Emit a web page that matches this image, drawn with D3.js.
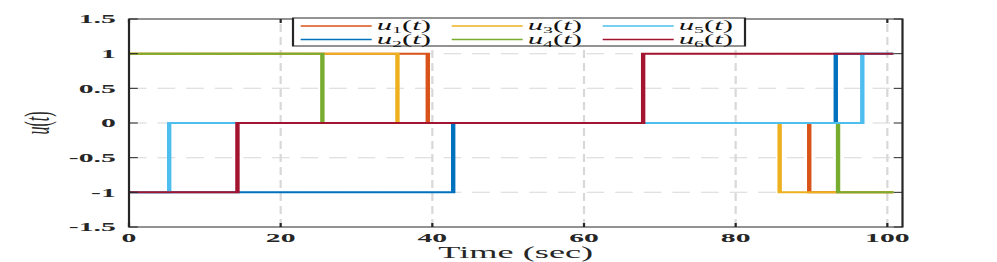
<!DOCTYPE html>
<html>
<head>
<meta charset="utf-8">
<script src="https://cdn.jsdelivr.net/npm/d3@7"></script>
<style>
	body { margin: 0; background: #fff; }
	svg { display: block; }
</style>
</head>
<body>
<svg id="chart"></svg>
<script>
// switching signals u1..u6, piecewise constant
var seriesNames = ['u1', 'u2', 'u3', 'u4', 'u5', 'u6'];
var seriesColors = ['#D95319', '#0072BD', '#EDB120', '#77AC30', '#4DBEEE', '#A2142F'];
var switchTimes = [
	[0, 39.4, 89.7],
	[0, 42.75, 93.2],
	[0, 35.4, 85.8],
	[0, 25.5, 93.5],
	[0, 5.3, 96.7],
	[0, 14.3, 67.8]
];
var switchLevels = [
	[1, 0, -1],
	[-1, 0, 1],
	[1, 0, -1],
	[1, 0, -1],
	[-1, 0, 1],
	[-1, 0, 1]
];
var tEnd = 100.8;
var xTicks = [0, 20, 40, 60, 80, 100];
var yTicks = [-1.5, -1, -0.5, 0, 0.5, 1, 1.5];
var yTickLabels = ['-1.5', '-1', '-0.5', '0', '0.5', '1', '1.5'];

// the figure is stretched horizontally, so draw in narrow coords and scale
var S = 2.2;
var width = 997, height = 262;
var L = 129 / S, R = 902.5 / S, T = 19, B = 227;

var svg = d3.select('#chart').attr('width', width).attr('height', height);
var root = svg.append('g').attr('transform', 'scale(' + S + ',1)');

var x = d3.scaleLinear().domain([0, 102]).range([L, R]);
var y = d3.scaleLinear().domain([-1.5, 1.5]).range([B, T]);

// grid
var grid = root.append('g')
	.attr('stroke', '#d8d8d8')
	.attr('stroke-width', 1)
	.attr('stroke-dasharray', '8,5');
grid.selectAll('line.gx').data(xTicks.slice(1)).enter().append('line')
	.attr('x1', function(d) { return x(d); }).attr('x2', function(d) { return x(d); })
	.attr('y1', B).attr('y2', T);
grid.selectAll('line.gy').data(yTicks.slice(1, -1)).enter().append('line')
	.attr('x1', L).attr('x2', R)
	.attr('y1', function(d) { return y(d); }).attr('y2', function(d) { return y(d); });

// step lines
var line = d3.line()
	.x(function(d) { return x(d[0]); })
	.y(function(d) { return y(d[1]); })
	.curve(d3.curveStepAfter);

seriesNames.forEach(function(name, i) {
	var pts = switchTimes[i].map(function(t, k) { return [t, switchLevels[i][k]]; });
	pts.push([tEnd, switchLevels[i][switchLevels[i].length - 1]]);
	root.append('path')
		.attr('d', line(pts))
		.attr('fill', 'none')
		.attr('stroke', seriesColors[i])
		.attr('stroke-width', 2);
});

// axes box + ticks (both sides, inward)
var ax = root.append('g').attr('stroke', '#262626').attr('stroke-width', 1).attr('fill', 'none');
ax.append('rect').attr('x', L).attr('y', T).attr('width', R - L).attr('height', B - T);
xTicks.forEach(function(t) {
	ax.append('line').attr('x1', x(t)).attr('x2', x(t)).attr('y1', B).attr('y2', B - 4);
	ax.append('line').attr('x1', x(t)).attr('x2', x(t)).attr('y1', T).attr('y2', T + 4);
});
yTicks.forEach(function(t) {
	ax.append('line').attr('x1', L).attr('x2', L + 4).attr('y1', y(t)).attr('y2', y(t));
	ax.append('line').attr('x1', R).attr('x2', R - 4).attr('y1', y(t)).attr('y2', y(t));
});

var serif = '"Liberation Serif", "DejaVu Serif", serif';

root.append('g').selectAll('text').data(xTicks).enter().append('text')
	.attr('x', function(d) { return x(d); })
	.attr('y', 242)
	.attr('text-anchor', 'middle')
	.attr('font-family', serif).attr('font-weight', 'bold').attr('font-size', 13.5)
	.attr('fill', '#262626')
	.text(function(d) { return d; });

root.append('g').selectAll('text').data(yTicks).enter().append('text')
	.attr('x', L - 6)
	.attr('y', function(d) { return y(d) + 4.5; })
	.attr('text-anchor', 'end')
	.attr('font-family', serif).attr('font-weight', 'bold').attr('font-size', 13.5)
	.attr('fill', '#262626')
	.text(function(d, i) { return yTickLabels[i]; });

root.append('text')
	.attr('x', (L + R) / 2).attr('y', 258.5)
	.attr('text-anchor', 'middle')
	.attr('font-family', serif).attr('font-size', 16.5)
	.attr('fill', '#262626')
	.text('Time (sec)');

var yl = root.append('text')
	.attr('transform', 'translate(' + (49 / S) + ',' + ((T + B) / 2) + ') rotate(-90)')
	.attr('text-anchor', 'middle')
	.attr('font-family', serif).attr('font-size', 16)
	.attr('fill', '#262626');
yl.append('tspan').attr('font-style', 'italic').text('u');
yl.append('tspan').text('(');
yl.append('tspan').attr('font-style', 'italic').text('t');
yl.append('tspan').text(')');

// legend
var lg = root.append('g');
lg.append('rect')
	.attr('x', 293 / S).attr('y', 18)
	.attr('width', (745 - 293) / S).attr('height', 28)
	.attr('fill', '#fff').attr('stroke', '#262626').attr('stroke-width', 1);

var legendOrder = [0, 2, 4, 1, 3, 5];
legendOrder.forEach(function(si, k) {
	var col = k % 3, row = Math.floor(k / 3);
	var lx = (300.7 + col * 151) / S;
	var ly = row === 0 ? 26 : 39.5;
	lg.append('line')
		.attr('x1', lx).attr('x2', lx + 71 / S)
		.attr('y1', ly).attr('y2', ly)
		.attr('stroke', seriesColors[si]).attr('stroke-width', 1.5);
	var t = lg.append('text')
		.attr('x', lx + 76 / S).attr('y', ly + 4.5)
		.attr('font-family', serif).attr('font-size', 14)
		.attr('fill', '#111');
	t.append('tspan').attr('font-style', 'italic').text('u');
	t.append('tspan').attr('font-size', 9).attr('dy', 3).text(seriesNames[si].slice(1));
	t.append('tspan').attr('dy', -3).text('(');
	t.append('tspan').attr('font-style', 'italic').text('t');
	t.append('tspan').text(')');
});
</script>
</body>
</html>
